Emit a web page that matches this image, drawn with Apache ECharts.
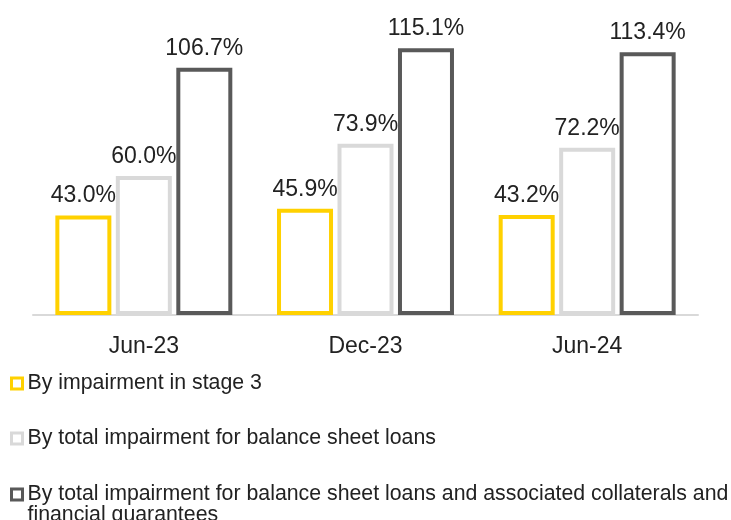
<!DOCTYPE html>
<html>
<head>
<meta charset="utf-8">
<script src="https://cdn.jsdelivr.net/npm/echarts@6/dist/echarts.min.js"></script>
<style>
  html, body { margin: 0; padding: 0; background: #fff; }
  #chart { width: 731px; height: 520px; }
</style>
</head>
<body>
<div id="chart"></div>
<script>
// Coverage ratios by period
const periods = ['Jun-23', 'Dec-23', 'Jun-24'];
const seriesNames = [
  'By impairment in stage 3',
  'By total impairment for balance sheet loans',
  'By total impairment for balance sheet loans and associated collaterals and financial guarantees'
];
const stage3 = [43.0, 45.9, 43.2];
const totalImpairment = [60.0, 73.9, 72.2];
const withCollaterals = [106.7, 115.1, 113.4];

const colors = ['#FFD100', '#D9D9D9', '#595959'];
const values = [stage3, totalImpairment, withCollaterals];
const textColor = '#222222';
const font = '"Liberation Sans", Arial, sans-serif';

const chart = echarts.init(document.getElementById('chart'), null, { renderer: 'canvas' });

const series = values.map((data, i) => ({
  name: seriesNames[i],
  type: 'bar',
  data: data,
  barWidth: 56,
  barGap: '8%',
  itemStyle: { color: '#ffffff', borderColor: colors[i], borderWidth: 4 },
  label: {
    show: true,
    position: 'top',
    distance: 8,
    color: textColor,
    fontFamily: font,
    fontSize: 23,
    formatter: p => p.value.toFixed(1) + '%'
  }
}));

// One legend per entry so each row sits where it should; the long entry wraps
const legendTops = [373, 428, 463];
const legends = seriesNames.map((name, i) => ({
  data: [name],
  orient: 'vertical',
  left: 10,
  top: legendTops[i],
  padding: 0,
  itemWidth: 11,
  itemHeight: 11,
  icon: 'rect',
  itemStyle: { color: '#ffffff', borderColor: colors[i], borderWidth: 3 },
  selectedMode: false,
  textStyle: { color: textColor, fontFamily: font, fontSize: 21.3, lineHeight: 21 },
  formatter: n => (n === seriesNames[2]
    ? '\n' + n.replace(' financial', '\nfinancial')
    : n)
}));

chart.setOption({
  animation: false,
  backgroundColor: '#ffffff',
  grid: { left: 33, right: 33, top: 37, bottom: 205 },
  legend: legends,
  xAxis: {
    type: 'category',
    data: periods,
    axisLine: { show: true, lineStyle: { color: '#D9D9D9', width: 2 } },
    axisTick: { show: false },
    axisLabel: { color: textColor, fontFamily: font, fontSize: 23, margin: 20 }
  },
  yAxis: {
    type: 'value',
    min: 0,
    max: 120,
    show: false,
    splitLine: { show: false }
  },
  series: series
});
</script>
</body>
</html>
